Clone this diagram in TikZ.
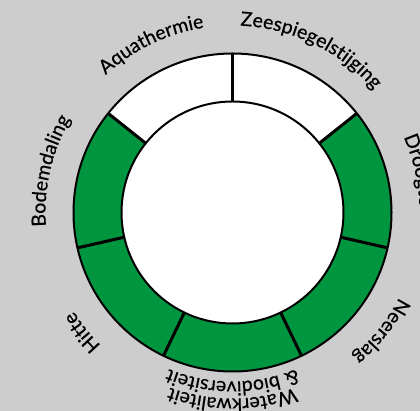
\documentclass[tikz,border=0pt]{standalone}
\usepackage{fontspec}
\setmainfont{Lato}
\newfontfamily\lblfam{Lato}[FakeBold=0.5]
\usetikzlibrary{decorations.text,calc}
\definecolor{bg}{HTML}{CDCDCD}
\definecolor{ringgreen}{HTML}{00963F}
\newcommand\lblfont{\lblfam\fontsize{19.5}{23}\selectfont}
\newcommand\arclabel[4]{%
  \path[decorate,decoration={text along path,text align=center,text={|\lblfont|#4}}]
    ($(c)+(#1+#3:#2)$) arc[start angle=#1+#3,end angle=#1-#3,radius=#2];
}
\begin{document}
\begin{tikzpicture}[x=1pt,y=1pt]
\fill[bg] (0,0) rectangle (420,411);
\useasboundingbox (0,0) rectangle (420,411);
\coordinate (c) at (232.5,198.5);
\def\Ro{159}
\def\Ri{111}
\foreach \k/\col in {0/white,1/ringgreen,2/ringgreen,3/ringgreen,4/ringgreen,5/ringgreen,6/white}{
  \pgfmathsetmacro\a{90-\k*360/7}
  \pgfmathsetmacro\b{90-(\k+1)*360/7}
  \fill[\col] ($(c)+(\a:\Ro)$) arc[start angle=\a,end angle=\b,radius=\Ro]
    -- ($(c)+(\b:\Ri)$) arc[start angle=\b,end angle=\a,radius=\Ri] -- cycle;
}
\fill[white] (c) circle (\Ri);
\draw[line width=2] (c) circle (\Ro);
\draw[line width=2] (c) circle (\Ri);
\foreach \k in {0,...,6}{
  \pgfmathsetmacro\a{90-\k*360/7}
  \draw[line width=3] ($(c)+(\a:\Ri)$) -- ($(c)+(\a:\Ro)$);
}
\arclabel{64.29}{187}{40}{Zeespiegelstijging}
\arclabel{115.71}{187}{40}{Aquathermie}
\arclabel{12.86}{187}{40}{Droogte}
\arclabel{-38.57}{187}{40}{Neerslag}
\arclabel{-141.43}{187}{40}{Hitte}
\arclabel{167.14}{187}{40}{Bodemdaling}
\arclabel{-90}{186}{40}{Waterkwaliteit}
\arclabel{-90}{169}{40}{{\&} biodiversiteit}
\end{tikzpicture}
\end{document}
